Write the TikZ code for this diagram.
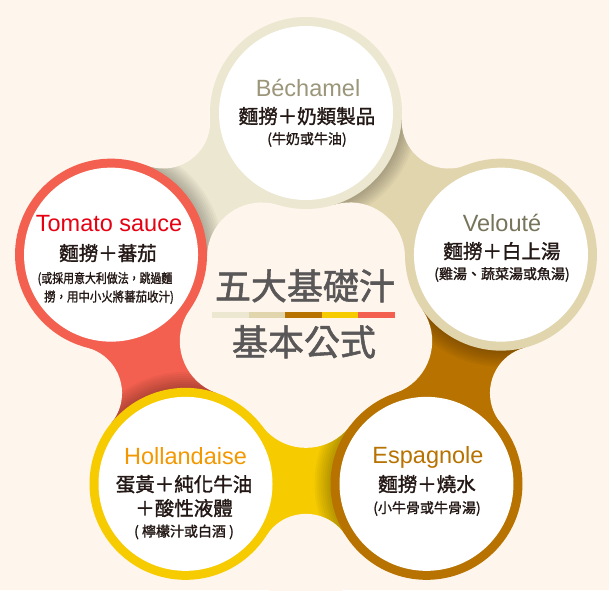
\documentclass[tikz,border=0pt]{standalone}
\usepackage{fontspec}
\setmainfont{Liberation Sans}
\newfontfamily\cjk[FakeBold=1.5]{Noto Sans CJK TC}
\usetikzlibrary{calc}
\definecolor{bg}{HTML}{FEF5EC}
\definecolor{cBech}{HTML}{ECE7D0}
\definecolor{cVel}{HTML}{E1D5AE}
\definecolor{cEsp}{HTML}{B77200}
\definecolor{cHol}{HTML}{F6CB00}
\definecolor{cTom}{HTML}{F3604F}
\definecolor{tBech}{HTML}{9B9679}
\definecolor{tVel}{HTML}{77745B}
\definecolor{tEsp}{HTML}{B77200}
\definecolor{tHol}{HTML}{F39800}
\definecolor{tTom}{HTML}{E60012}
\definecolor{ink}{HTML}{231815}
\definecolor{gr}{HTML}{595757}
\tikzset{
  lat/.style={font=\fontsize{23.5}{28}\selectfont, anchor=base, inner sep=0pt},
  zh/.style={font=\cjk\fontsize{19.5}{22}\selectfont, text=ink, anchor=base, inner sep=0pt},
  zhs/.style={font=\cjk\fontsize{14}{16}\selectfont, text=ink, anchor=base, inner sep=0pt},
  ctr/.style={font=\cjk\fontsize{36}{40}\selectfont, text=gr, anchor=base, inner sep=0pt},
  band/.style={fill=#1},
}
\begin{document}
\begin{tikzpicture}[x=1pt,y=1pt]
\fill[bg] (0,0) rectangle (611,590);
\fill[white] (609,0) rectangle (611,590);
\useasboundingbox (0,0) rectangle (611,590);
\coordinate (C) at (306,272);
\foreach \n/\a in {B/90, V/18, E/-54, H/-126, T/162}
  \coordinate (\n) at ($(C)+(\a:205)$);
% bands (colour of the next circle clockwise) with shadow of the previous circle
\foreach \a/\col in {90/cVel, 18/cEsp, -54/cHol, -126/cTom, 162/cBech} {
  \begin{scope}[shift={(C)}, rotate=\a-36]
    \fill[band=\col] (217.5,39.6) -- (107.95,43.9) -- (107.95,-43.9) -- (217.5,-39.6) -- cycle;
    \begin{scope}
      \clip (217.5,39.6) -- (107.95,43.9) -- (107.95,-43.9) -- (217.5,-39.6) -- cycle;
      \foreach \k in {1,...,8}
        \fill[black, fill opacity=0.032] (165.85,120.5) circle[radius=96+2*\k];
    \end{scope}
  \end{scope}
}
% carving circles
\foreach \a in {90,18,-54,-126,162} {
  \begin{scope}[shift={(C)}, rotate=\a-36]
    \fill[bg] (242.85,0) circle[radius=47];
    \fill[bg] (74.85,0) circle[radius=55];
  \end{scope}
}
% rings
\foreach \n/\col in {B/cBech, V/cVel, E/cEsp, H/cHol, T/cTom} {
  \fill[\col] (\n) circle[radius=96];
  \fill[white] (\n) circle[radius=87];
}
% Bechamel
\node[lat, text=tBech] (b1) at (308,493) {Béchamel};
\node[zh] (b2) at (307,466.5) {麵撈＋奶類製品};
\node[zhs] (b3) at (307,446) {(牛奶或牛油)};
% Veloute
\node[lat, text=tVel] (v1) at (502,358) {Velouté};
\node[zh] (v2) at (502,331.5) {麵撈＋白上湯};
\node[zhs] (v3) at (502,311) {(雞湯、蔬菜湯或魚湯)};
% Espagnole
\node[lat, text=tEsp] (e1) at (428,127) {Espagnole};
\node[zh] (e2) at (427,98.5) {麵撈＋燒水};
\node[zhs] (e3) at (427,77) {(小牛骨或牛骨湯)};
% Hollandaise
\node[lat, text=tHol] (h1) at (185.5,126) {Hollandaise};
\node[zh] (h2) at (184,98.5) {蛋黃＋純化牛油};
\node[zh] (h3) at (184,74.5) {＋酸性液體};
\node[zhs] (h4) at (184,53.5) {( 檸檬汁或白酒 )};
% Tomato
\node[lat, text=tTom] (t1) at (109,358) {Tomato sauce};
\node[zh] (t2) at (108,329.5) {麵撈＋蕃茄};
\node[zhs, font=\cjk\fontsize{13}{15}\selectfont] (t3) at (105,307) {\scalebox{0.84}[1]{(或採用意大利做法，跳過麵}};
\node[zhs, font=\cjk\fontsize{13}{15}\selectfont] (t4) at (109,288.5) {\scalebox{0.88}[1]{撈，用中小火將蕃茄收汁)}};
% centre
\node[ctr] (c1) at (305,290.5) {五大基礎汁};
\node[ctr] (c2) at (304,234.5) {基本公式};
\foreach \i/\col in {0/cBech,1/cVel,2/cEsp,3/cHol,4/cTom}
  \fill[\col] (212+36.6*\i,272) rectangle (212+36.6*\i+36.6,278);
\end{tikzpicture}
\end{document}
